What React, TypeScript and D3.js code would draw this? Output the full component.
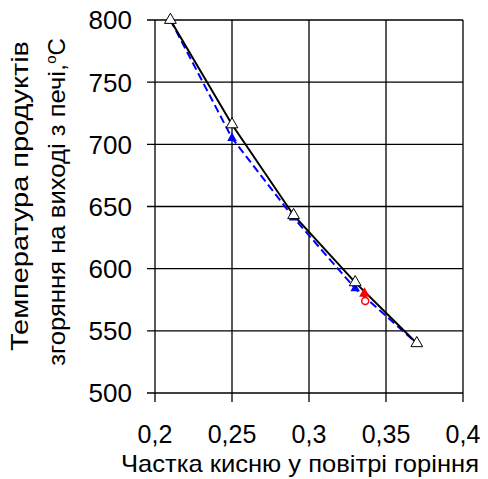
import React from 'react';
import * as d3 from 'd3';

const oxygen = [0.21, 0.25, 0.29, 0.33, 0.37];
const calcTemp = [800, 716, 643, 589, 540];
const modelTemp = [800, 705, 641, 584, 540];
const expX = [0.336];
const expTri = [580];
const expCircle = [574];
const xTicks = [0.2, 0.25, 0.3, 0.35, 0.4];
const yTicks = [500, 550, 600, 650, 700, 750, 800];

const W = 488;
const H = 479;
const m = { left: 155, right: 25, top: 20, bottom: 86 };
const font = 'Liberation Sans, Arial, sans-serif';

const fmt = (v: number) => String(v).replace('.', ',');

const App = () => {
  const x = d3.scaleLinear().domain([0.2, 0.4]).range([m.left, W - m.right]);
  const y = d3.scaleLinear().domain([500, 800]).range([H - m.bottom, m.top]);

  const line = d3.line<[number, number]>()
    .x((d) => x(d[0]))
    .y((d) => y(d[1]));

  const calcPts = oxygen.map((o, i) => [o, calcTemp[i]] as [number, number]);
  const modelPts = oxygen.map((o, i) => [o, modelTemp[i]] as [number, number]);
  const tri = d3.symbol().type(d3.symbolTriangle);

  return (
    <svg width={W} height={H} style={{ position: 'absolute', left: 0, top: 0, background: '#fff' }}>
      {/* grid */}
      {yTicks.map((t) => (
        <line key={'gy' + t} x1={x(0.2) - 8} x2={x(0.4)} y1={y(t)} y2={y(t)} stroke="#000" strokeWidth={1.3} />
      ))}
      {xTicks.map((t) => (
        <line key={'gx' + t} x1={x(t)} x2={x(t)} y1={y(800)} y2={y(500) + 9} stroke="#000" strokeWidth={1.3} />
      ))}

      {/* y tick labels */}
      {yTicks.map((t) => (
        <text key={'ty' + t} x={132} y={y(t)} dy="0.36em" textAnchor="end"
          fontFamily={font} fontSize={26}>{t}</text>
      ))}
      {/* x tick labels */}
      {xTicks.map((t) => (
        <text key={'tx' + t} x={x(t)} y={443} textAnchor="middle"
          fontFamily={font} fontSize={25}>{fmt(t)}</text>
      ))}

      <text x={300} y={472} textAnchor="middle" fontFamily={font} fontSize={24}
        textLength={358} lengthAdjust="spacingAndGlyphs">
        Частка кисню у повітрі горіння
      </text>
      <g transform="translate(28,200) rotate(-90)">
        <text x={4} y={0} textAnchor="middle" fontFamily={font} fontSize={24}
          textLength={310} lengthAdjust="spacingAndGlyphs">Температура продуктів</text>
        <text x={-2} y={37} textAnchor="middle" fontFamily={font} fontSize={24}>
          <tspan textLength={302} lengthAdjust="spacingAndGlyphs">згоряння на виході з печі,</tspan>
          <tspan dy={-9} fontSize={15}>o</tspan><tspan dy={9}>C</tspan>
        </text>
      </g>

      {/* series */}
      <path d={line(modelPts) ?? ''} fill="none" stroke="#0000ff" strokeWidth={2} strokeDasharray="8,4" />
      <path d={line(calcPts) ?? ''} fill="none" stroke="#000" strokeWidth={2} />

      {modelPts.map((d, i) => (
        <path key={'bm' + i} d={tri.size(40)() ?? ''} transform={`translate(${x(d[0])},${y(d[1])})`}
          fill="#0000ff" />
      ))}
      {calcPts.map((d, i) => (
        <path key={'km' + i} d={tri.size(60)() ?? ''} transform={`translate(${x(d[0])},${y(d[1])})`}
          fill="#fff" stroke="#000" strokeWidth={1} />
      ))}
      {expX.map((o, i) => (
        <g key={'ex' + i}>
          <path d={tri.size(50)() ?? ''} transform={`translate(${x(o)},${y(expTri[i])})`} fill="#ff0000" />
          <circle cx={x(o + 0.0005)} cy={y(expCircle[i])} r={3.5} fill="#fff" stroke="#ff0000" strokeWidth={1.5} />
        </g>
      ))}
    </svg>
  );
};

export default App;
